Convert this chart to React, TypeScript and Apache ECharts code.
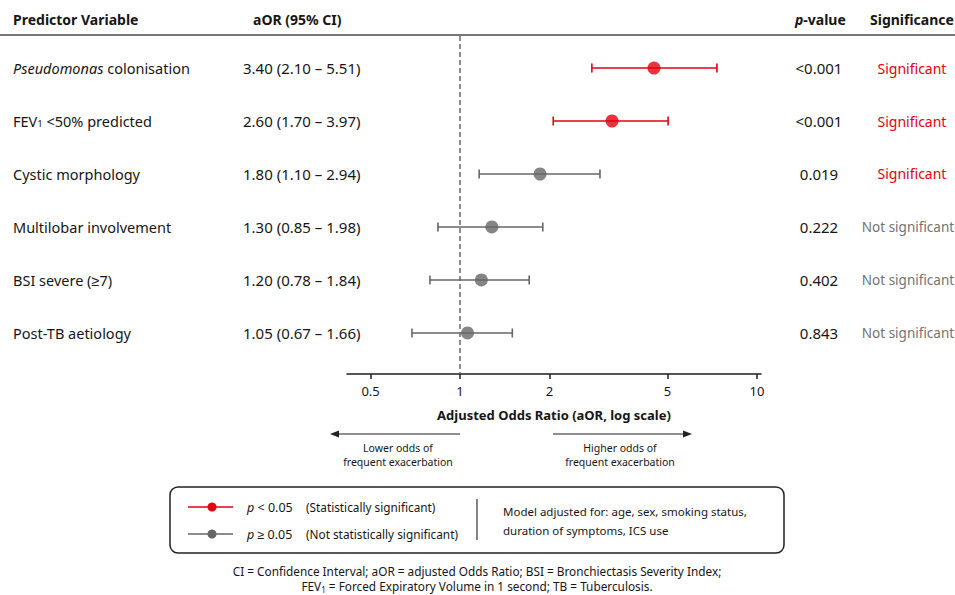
import React, { useEffect, useRef } from "react";
import * as echarts from "echarts";

// ---- Data ----
const predictorLabels = [
  "{it|Pseudomonas} colonisation",
  "FEV{sub|1} <50% predicted",
  "Cystic morphology",
  "Multilobar involvement",
  "BSI severe (≥7)",
  "Post-TB aetiology",
];
const aorLabels = [
  "3.40 (2.10 – 5.51)",
  "2.60 (1.70 – 3.97)",
  "1.80 (1.10 – 2.94)",
  "1.30 (0.85 – 1.98)",
  "1.20 (0.78 – 1.84)",
  "1.05 (0.67 – 1.66)",
];
const pValues = ["<0.001", "<0.001", "0.019", "0.222", "0.402", "0.843"];
const significance = [
  "Significant",
  "Significant",
  "Significant",
  "Not significant",
  "Not significant",
  "Not significant",
];
// plotted positions as drawn in the picture
const pointEstimates = [4.5, 3.25, 1.86, 1.28, 1.18, 1.06];
const ciLower = [2.78, 2.06, 1.16, 0.843, 0.792, 0.689];
const ciUpper = [7.33, 5.02, 2.96, 1.9, 1.71, 1.5];
const markerGroup = ["sig", "sig", "ns", "ns", "ns", "ns"];
const axisTicks = [0.5, 1, 2, 5, 10];

const RED = "#e3000f";
const GRAY = "#666666";
const DARK = "#161616";
const FONT = "'Noto Sans', sans-serif";

export default function App() {
  const ref = useRef<HTMLDivElement>(null);

  useEffect(() => {
    if (!ref.current) return;
    const chart = echarts.init(ref.current, undefined, { renderer: "svg" });
    const lg = (v: number) => Math.log10(v);
    const rowIdx = predictorLabels.map((_, i) => i);

    const richBase = {
      it: { fontStyle: "italic", fontSize: 14.5, fontFamily: FONT, color: DARK },
      sub: { fontSize: 9.5, fontFamily: FONT, verticalAlign: "bottom", lineHeight: 11, color: DARK },
    };

    const smallText = (text: string, x: number, y: number) => ({
      type: "text",
      x,
      y,
      style: { text, font: `10.5px ${FONT}`, fill: DARK, align: "center", verticalAlign: "middle" },
    });

    const option: any = {
      animation: false,
      textStyle: { fontFamily: FONT },
      grid: { left: 347, right: 194, top: 36, bottom: 221 },
      xAxis: {
        type: "value",
        min: -0.3805,
        max: 1.0135,
        splitLine: { show: false },
        axisLine: { onZero: false, lineStyle: { color: "#1e1e1e", width: 1.5 } },
        axisTick: {
          show: true,
          length: 5,
          customValues: axisTicks.map(lg),
          lineStyle: { color: "#1e1e1e", width: 1.5 },
        },
        axisLabel: {
          customValues: axisTicks.map(lg),
          formatter: (v: number) => String(Number(Math.pow(10, v).toPrecision(2))),
          fontSize: 13,
          color: DARK,
          margin: 10,
          fontFamily: FONT,
        },
        name: "Adjusted Odds Ratio (aOR, log scale)",
        nameLocation: "middle",
        nameGap: 34,
        nameTextStyle: { fontSize: 13, fontWeight: "bold", color: DARK, fontFamily: FONT },
      },
      yAxis: {
        type: "value",
        inverse: true,
        min: -0.604,
        max: 5.774,
        show: false,
      },
      series: [
        {
          type: "custom",
          clip: false,
          silent: true,
          data: rowIdx.map((i) => [lg(ciLower[i]), lg(ciUpper[i]), i]),
          encode: { x: [0, 1], y: 2 },
          renderItem: (params: any, api: any) => {
            const i = api.value(2);
            const a = api.coord([api.value(0), i]);
            const b = api.coord([api.value(1), i]);
            const y = a[1];
            const c = markerGroup[i] === "sig" ? RED : GRAY;
            const st = { stroke: c, lineWidth: 1.6 };
            return {
              type: "group",
              children: [
                { type: "line", shape: { x1: a[0], y1: y, x2: b[0], y2: y }, style: st },
                { type: "line", shape: { x1: a[0], y1: y - 4.5, x2: a[0], y2: y + 4.5 }, style: st },
                { type: "line", shape: { x1: b[0], y1: y - 4.5, x2: b[0], y2: y + 4.5 }, style: st },
              ],
            };
          },
        },
        {
          type: "scatter",
          symbol: "circle",
          symbolSize: 13,
          silent: true,
          data: rowIdx.map((i) => ({
            value: [lg(pointEstimates[i]), i],
            itemStyle: { color: markerGroup[i] === "sig" ? RED : GRAY },
          })),
          markLine: {
            silent: true,
            symbol: ["none", "none"],
            label: { show: false },
            lineStyle: { color: "#6a6a6a", width: 1.5, type: [5, 3] },
            data: [{ xAxis: 0 }],
          },
          z: 3,
        },
        {
          type: "custom",
          clip: false,
          silent: true,
          data: rowIdx.map((i) => [0, i]),
          encode: { x: 0, y: 1 },
          renderItem: (params: any, api: any) => {
            const i = api.value(1);
            const y = api.coord([0, i])[1];
            const base = { fontFamily: FONT, fill: DARK, textVerticalAlign: "middle" };
            return {
              type: "group",
              children: [
                {
                  type: "text",
                  style: {
                    ...base,
                    fontSize: 14.5,
                    x: 13,
                    y,
                    text: predictorLabels[i],
                    rich: richBase,
                    textAlign: "left",
                  },
                },
                { type: "text", style: { ...base, fontSize: 15, x: 243, y, text: aorLabels[i], textAlign: "left" } },
                { type: "text", style: { ...base, fontSize: 15, x: 819, y, text: pValues[i], textAlign: "center" } },
                {
                  type: "text",
                  style: {
                    ...base,
                    fontSize: significance[i] === "Significant" ? 14 : 13.5,
                    x: significance[i] === "Significant" ? 912 : 908,
                    y,
                    text: significance[i],
                    textAlign: "center",
                    fill: significance[i] === "Significant" ? RED : "#737373",
                  },
                },
              ],
            };
          },
        },
      ],
      graphic: [
        // header
        { type: "text", left: 13, top: 12, style: { text: "Predictor Variable", font: `bold 14px ${FONT}`, fill: DARK } },
        { type: "text", left: 253, top: 12, style: { text: "aOR (95% CI)", font: `bold 14px ${FONT}`, fill: DARK } },
        {
          type: "text",
          left: 795,
          top: 12,
          style: {
            text: "{i|p}-value",
            font: `bold 14px ${FONT}`,
            fill: DARK,
            rich: { i: { fontStyle: "italic", fontWeight: "bold", fontSize: 14, fontFamily: FONT } },
          },
        },
        { type: "text", left: 870, top: 12, style: { text: "Significance", font: `bold 14px ${FONT}`, fill: DARK } },
        { type: "line", shape: { x1: 0, y1: 35, x2: 955, y2: 35 }, style: { stroke: "#4a4a4a", lineWidth: 1.5 } },
        // direction arrows
        { type: "line", shape: { x1: 460, y1: 434, x2: 336, y2: 434 }, style: { stroke: "#222", lineWidth: 1.2 } },
        { type: "polygon", shape: { points: [[330, 434], [339, 430.5], [339, 437.5]] }, style: { fill: "#222" } },
        { type: "line", shape: { x1: 553, y1: 434, x2: 686, y2: 434 }, style: { stroke: "#222", lineWidth: 1.2 } },
        { type: "polygon", shape: { points: [[692, 434], [683, 430.5], [683, 437.5]] }, style: { fill: "#222" } },
        smallText("Lower odds of", 398, 448),
        smallText("frequent exacerbation", 398, 462),
        smallText("Higher odds of", 620, 448),
        smallText("frequent exacerbation", 620, 462),
        // legend box
        {
          type: "rect",
          shape: { x: 170, y: 487, width: 614, height: 66, r: 8 },
          style: { fill: "#fff", stroke: "#222", lineWidth: 1.5 },
        },
        { type: "line", shape: { x1: 188, y1: 507, x2: 233, y2: 507 }, style: { stroke: RED, lineWidth: 1.5 } },
        { type: "circle", shape: { cx: 212, cy: 507, r: 4.5 }, style: { fill: RED } },
        { type: "line", shape: { x1: 188, y1: 534, x2: 233, y2: 534 }, style: { stroke: GRAY, lineWidth: 1.5 } },
        { type: "circle", shape: { cx: 212, cy: 534, r: 4.5 }, style: { fill: GRAY } },
        {
          type: "text",
          x: 247,
          y: 507,
          style: {
            text: "{i|p} < 0.05",
            font: `12.5px ${FONT}`,
            fill: DARK,
            verticalAlign: "middle",
            rich: { i: { fontStyle: "italic", fontSize: 12.5, fontFamily: FONT } },
          },
        },
        {
          type: "text",
          x: 306,
          y: 507,
          style: { text: "(Statistically significant)", font: `11.8px ${FONT}`, fill: DARK, verticalAlign: "middle" },
        },
        {
          type: "text",
          x: 247,
          y: 534,
          style: {
            text: "{i|p} ≥ 0.05",
            font: `12.5px ${FONT}`,
            fill: DARK,
            verticalAlign: "middle",
            rich: { i: { fontStyle: "italic", fontSize: 12.5, fontFamily: FONT } },
          },
        },
        {
          type: "text",
          x: 306,
          y: 534,
          style: { text: "(Not statistically significant)", font: `11.8px ${FONT}`, fill: DARK, verticalAlign: "middle" },
        },
        { type: "line", shape: { x1: 477, y1: 499, x2: 477, y2: 540 }, style: { stroke: "#333", lineWidth: 1.2 } },
        {
          type: "text",
          x: 503,
          y: 511,
          style: { text: "Model adjusted for: age, sex, smoking status,", font: `11.5px ${FONT}`, fill: DARK, verticalAlign: "middle" },
        },
        {
          type: "text",
          x: 503,
          y: 530,
          style: { text: "duration of symptoms, ICS use", font: `11.5px ${FONT}`, fill: DARK, verticalAlign: "middle" },
        },
        // footnote
        {
          type: "text",
          x: 477,
          y: 571,
          style: {
            text: "CI = Confidence Interval; aOR = adjusted Odds Ratio; BSI = Bronchiectasis Severity Index;",
            font: `11.8px ${FONT}`,
            fill: DARK,
            align: "center",
            verticalAlign: "middle",
          },
        },
        {
          type: "text",
          x: 477,
          y: 586,
          style: {
            text: "FEV{s|1} = Forced Expiratory Volume in 1 second; TB = Tuberculosis.",
            font: `11.8px ${FONT}`,
            fill: DARK,
            align: "center",
            verticalAlign: "middle",
            lineHeight: 15,
            rich: { s: { fontSize: 8, fontFamily: FONT, verticalAlign: "bottom", lineHeight: 9 } },
          },
        },
      ],
    };

    chart.setOption(option);
    return () => chart.dispose();
  }, []);

  return (
    <div
      ref={ref}
      style={{ position: "fixed", left: 0, top: 0, width: 955, height: 595, background: "#fff" }}
    />
  );
}
